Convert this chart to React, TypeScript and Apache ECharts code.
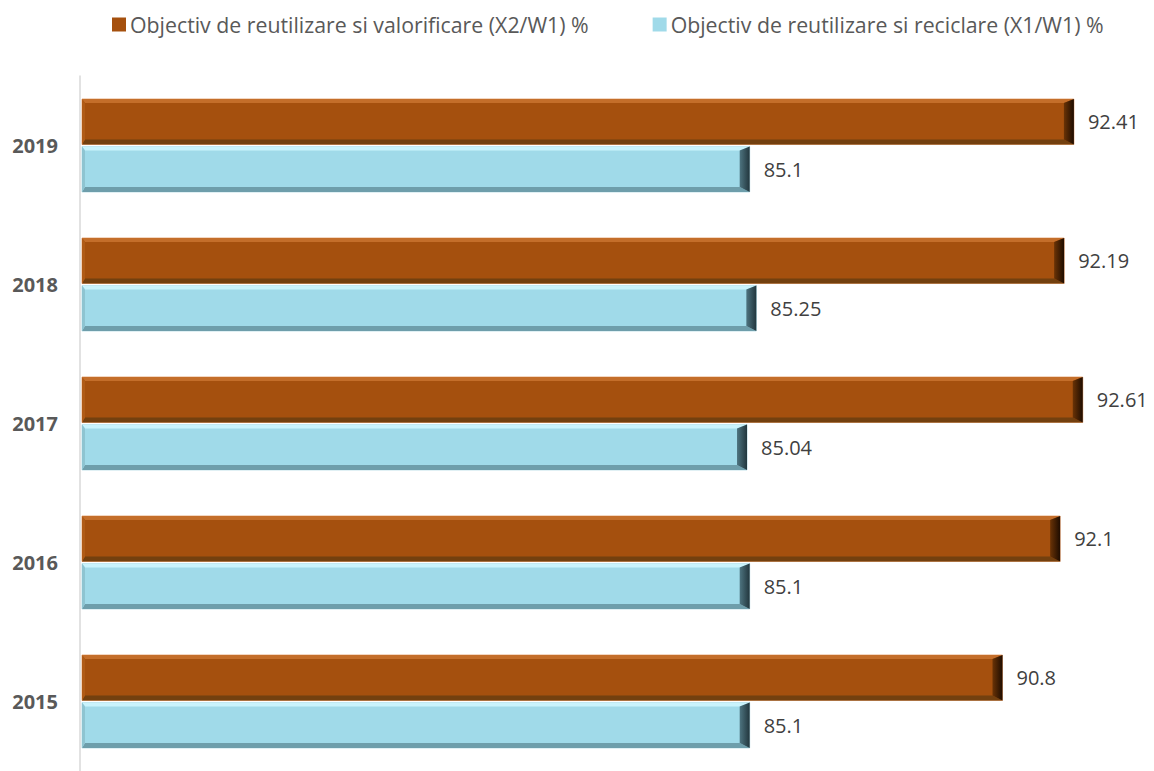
import React, { useEffect, useRef } from "react";
import * as echarts from "echarts";

const years = ["2015", "2016", "2017", "2018", "2019"];
const valorificare = [90.8, 92.1, 92.61, 92.19, 92.41];
const reciclare = [85.1, 85.1, 85.04, 85.25, 85.1];
const seriesNames = [
  "Objectiv de reutilizare si valorificare (X2/W1) %",
  "Objectiv de reutilizare si reciclare (X1/W1) %",
];
const X_MIN = 70;
const X_MAX = 94;

const FONT = "'Open Sans', 'Noto Sans', sans-serif";

type Palette = {
  face: string;
  top: string;
  bottom: string;
  left: string;
  rightA: string;
  rightB: string;
  outline: string;
};

const brown: Palette = {
  face: "#A5500E",
  top: "#C46E2A",
  bottom: "#73400F",
  left: "#B05B16",
  rightA: "#6A3306",
  rightB: "#1E0C00",
  outline: "#E4A679",
};
const cyan: Palette = {
  face: "#A0DAE9",
  top: "#C9F3FC",
  bottom: "#6E9EAB",
  left: "#8EC4D1",
  rightA: "#4E7480",
  rightB: "#22363D",
  outline: "#B9DCE6",
};

function makeRender(pal: Palette, upper: boolean) {
  return (params: any, api: any) => {
    const v = api.value(0);
    const idx = api.value(1);
    const end = api.coord([v, idx]);
    const start = api.coord([X_MIN, idx]);
    const band = api.size([0, 1])[1];
    const barH = band * 0.327;
    const c = end[1];
    const x0 = start[0] + 2;
    const x1 = end[0];
    const y0 = upper ? c - 1 - barH : c + 1;
    const y1 = y0 + barH;
    const t = 4, b = 5, l = 3, r = 10;
    return {
      type: "group",
      children: [
        {
          type: "rect",
          shape: { x: x0, y: y0, width: x1 - x0, height: y1 - y0 },
          style: { fill: pal.face, stroke: pal.outline, lineWidth: 1 },
        },
        {
          type: "polygon",
          shape: { points: [[x0, y0], [x1, y0], [x1 - r, y0 + t], [x0 + l, y0 + t]] },
          style: { fill: pal.top },
        },
        {
          type: "polygon",
          shape: { points: [[x0, y1], [x1, y1], [x1 - r, y1 - b], [x0 + l, y1 - b]] },
          style: { fill: pal.bottom },
        },
        {
          type: "polygon",
          shape: { points: [[x0, y0], [x0 + l, y0 + t], [x0 + l, y1 - b], [x0, y1]] },
          style: { fill: pal.left },
        },
        {
          type: "polygon",
          shape: { points: [[x1, y0], [x1, y1], [x1 - r, y1 - b], [x1 - r, y0 + t]] },
          style: {
            fill: new echarts.graphic.LinearGradient(0, 0, 1, 0, [
              { offset: 0, color: pal.rightA },
              { offset: 1, color: pal.rightB },
            ]),
          },
        },
        {
          type: "text",
          style: {
            text: String(v),
            x: x1 + 14,
            y: (y0 + y1) / 2,
            verticalAlign: "middle",
            align: "left",
            fill: "#404040",
            fontSize: 20,
            fontFamily: FONT,
          },
        },
      ],
    };
  };
}

export default function App() {
  const ref = useRef<HTMLDivElement>(null);
  useEffect(() => {
    if (!ref.current) return;
    const chart = echarts.init(ref.current, undefined, { renderer: "svg" });
    chart.setOption({
      animation: false,
      backgroundColor: "#ffffff",
      legend: {
        left: 107,
        top: 9,
        itemWidth: 14,
        itemHeight: 14,
        itemGap: 64,
        icon: "rect",
        textStyle: { fontSize: 21.3, color: "#595959", fontFamily: FONT, padding: [0, 0, 0, -1] },
        data: seriesNames,
      },
      grid: { left: 80, top: 76, width: (X_MAX - X_MIN) * 44.35, height: 703 },
      xAxis: {
        type: "value",
        min: X_MIN,
        max: X_MAX,
        show: false,
        splitLine: { show: false },
      },
      yAxis: {
        type: "category",
        data: years,
        axisLine: { show: true, lineStyle: { color: "#D9D9D9", width: 1.5 } },
        axisTick: { show: false },
        axisLabel: {
          fontSize: 20,
          fontWeight: "bold",
          color: "#595959",
          fontFamily: FONT,
          margin: 22,
        },
      },
      series: [
        {
          name: seriesNames[0],
          type: "custom",
          itemStyle: { color: brown.face },
          encode: { x: 0, y: 1 },
          data: valorificare.map((v, i) => [v, i]),
          renderItem: makeRender(brown, true),
        },
        {
          name: seriesNames[1],
          type: "custom",
          itemStyle: { color: cyan.face },
          encode: { x: 0, y: 1 },
          data: reciclare.map((v, i) => [v, i]),
          renderItem: makeRender(cyan, false),
        },
      ],
    });
    return () => chart.dispose();
  }, []);
  return (
    <div
      ref={ref}
      style={{ position: "fixed", left: 0, top: 0, width: 1154, height: 771 }}
    />
  );
}
